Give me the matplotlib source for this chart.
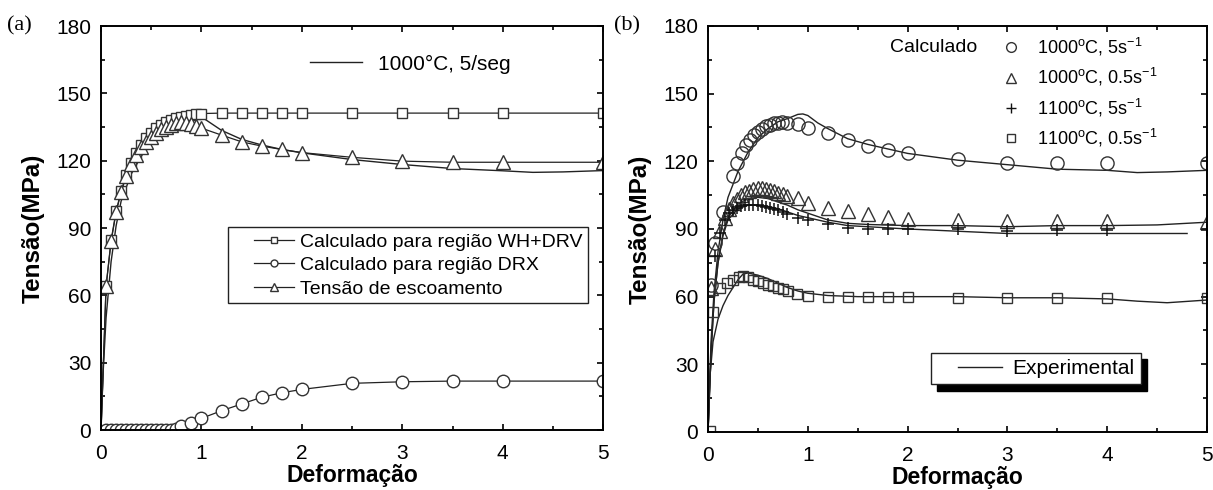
import matplotlib
matplotlib.use('Agg')
import matplotlib.pyplot as plt
from matplotlib.lines import Line2D
from matplotlib.legend_handler import HandlerLine2D
from matplotlib.ticker import MultipleLocator

plt.rcParams['font.family'] = ['Liberation Sans', 'DejaVu Sans']
plt.rcParams['mathtext.fontset'] = 'custom'
plt.rcParams['mathtext.rm'] = 'Liberation Sans'

# ---------------- (a) 1000°C, 5/seg ----------------
a_exp_x = [0, 0.02, 0.05, 0.1, 0.15, 0.2, 0.3, 0.4, 0.5, 0.6, 0.7, 0.8, 0.9, 0.95,
           1.0, 1.1, 1.2, 1.4, 1.6, 1.8, 2.0, 2.5, 3.0, 3.5, 4.0, 4.3, 4.6, 5.0]
a_exp_y = [0, 25, 50, 75, 91, 102, 114, 122, 128, 132.5, 136, 138.5, 140, 140.2,
           139.5, 136.5, 133.5, 129.5, 127, 125, 123.5, 120.5, 118.3, 116.5, 115.5, 114.8, 115, 115.6]

a_calc_x = [0, 0.05, 0.1, 0.15, 0.2, 0.25, 0.3, 0.35, 0.4, 0.45, 0.5, 0.55, 0.6, 0.65,
            0.7, 0.75, 0.8, 0.85, 0.9, 0.95, 1.0, 1.2, 1.4, 1.6, 1.8, 2.0, 2.5, 3.0, 3.5, 4.0, 5.0]
a_whdrv_y = [0, 64, 84.5, 97.5, 106.5, 113.5, 119, 123.5, 127, 130, 132.5, 134.5, 136, 137.3,
             138.3, 139, 139.6, 140, 140.4, 140.7, 141, 141.2, 141.2, 141.2, 141.2, 141.2,
             141.2, 141.2, 141.2, 141.2, 141.2]
a_yield_y = [0, 64, 84, 97, 106, 113, 118.5, 122.5, 126, 128.5, 130.5, 132.5, 134, 135,
             136, 136.8, 137.2, 137, 136.5, 135.5, 134.5, 131.4, 128.4, 126.5, 125, 123.6,
             121.5, 119.8, 119.3, 119.3, 119.3]

a_drx_x = [0, 0.05, 0.1, 0.15, 0.2, 0.25, 0.3, 0.35, 0.4, 0.45, 0.5, 0.55, 0.6, 0.65, 0.7,
           0.75, 0.8, 0.9, 1.0, 1.2, 1.4, 1.6, 1.8, 2.0, 2.5, 3.0, 3.5, 4.0, 5.0]
a_drx_y = [0, 0, 0, 0, 0, 0, 0, 0, 0, 0, 0, 0, 0, 0, 0.2,
           0.5, 1.8, 3.0, 5.2, 8.6, 11.6, 14.6, 16.6, 18.1, 20.8, 21.5, 21.8, 21.8, 21.8]

a_labels = ['Calculado para região WH+DRV', 'Calculado para região DRX',
            'Tensão de escoamento']

# ---------------- (b) experimental ----------------
b_e1_x = [0, 0.03, 0.06, 0.1, 0.15, 0.2, 0.3, 0.4, 0.5, 0.6, 0.7, 0.8, 0.9, 0.95, 1.0,
          1.1, 1.2, 1.4, 1.6, 1.8, 2.0, 2.5, 3.0, 3.5, 4.0, 4.3, 4.6, 5.0]
b_e1_y = [0, 40, 62, 80, 94, 104, 115.5, 124, 130.5, 134.5, 137.5, 139, 140.8, 141, 140.3,
          137, 134.5, 130, 127.5, 125.5, 123.5, 120.5, 118.5, 116.5, 116, 115, 115.3, 116]

b_e2_x = [0, 0.03, 0.06, 0.1, 0.15, 0.2, 0.3, 0.4, 0.5, 0.6, 0.7, 0.8, 0.9, 1.0, 1.2,
          1.4, 1.6, 2.0, 2.5, 3.0, 3.5, 4.0, 4.5, 5.0]
b_e2_y = [0, 35, 58, 75, 88, 95, 101, 103.5, 104, 103.5, 102, 100.5, 98.5, 97, 94,
          92.5, 92, 91.5, 91.5, 91, 91.5, 91.5, 91.8, 93]

b_e3_x = [0, 0.03, 0.06, 0.1, 0.15, 0.2, 0.3, 0.4, 0.5, 0.6, 0.7, 0.8, 0.9, 1.0, 1.2,
          1.4, 1.6, 1.8, 2.0, 2.5, 3.0, 3.5, 4.0, 4.5, 4.8]
b_e3_y = [0, 35, 58, 75, 87, 94, 99, 100.5, 100.5, 100, 99, 97.5, 96, 95, 93,
          91.5, 91, 90.5, 90, 89, 88, 88, 88, 88, 88]

b_e4_x = [0, 0.02, 0.05, 0.1, 0.15, 0.2, 0.25, 0.3, 0.35, 0.4, 0.5, 0.6, 0.7, 0.8, 0.9,
          1.0, 1.2, 1.5, 2.0, 2.5, 3.0, 3.5, 4.0, 4.3, 4.6, 5.0]
b_e4_y = [0, 25, 40, 50, 56, 60.5, 64, 67.5, 70, 70.5, 69.5, 68, 66, 64, 62.5,
          61.5, 60.5, 60, 60, 60, 59.5, 59.5, 59, 58, 57.3, 58.5]

# ---------------- (b) calculated ----------------
b_c1_x = [0.03, 0.07, 0.15, 0.25, 0.29, 0.34, 0.38, 0.42, 0.46, 0.5, 0.54, 0.58, 0.62,
          0.66, 0.7, 0.74, 0.79, 0.9, 1.0, 1.2, 1.4, 1.6, 1.8, 2.0, 2.5, 3.0, 3.5, 4.0, 5.0]
b_c1_y = [65, 84, 97.7, 113.5, 119.4, 123.8, 127.2, 129.5, 131.5, 133, 134.5, 135.5, 136.3,
          136.8, 137.2, 137.3, 137.1, 136.4, 134.9, 132.7, 129.4, 127, 125, 123.5, 121,
          119.4, 119.1, 119.1, 119.1]

b_c2_x = [0.03, 0.07, 0.12, 0.17, 0.21, 0.25, 0.29, 0.33, 0.37, 0.41, 0.45, 0.5, 0.54, 0.58,
          0.62, 0.66, 0.7, 0.75, 0.79, 0.9, 1.0, 1.2, 1.4, 1.6, 1.8, 2.0, 2.5, 3.0, 3.5, 4.0, 5.0]
b_c2_y = [64, 81, 89, 95, 99, 101.5, 103.5, 105, 106.2, 107, 107.6, 108, 108, 107.8,
          107.4, 106.8, 106, 105.3, 104.6, 103.9, 101.4, 99.1, 98.1, 96.5, 95.5, 94.5,
          93.8, 93.5, 93.5, 93.5, 93.2]

b_c3_x = [0.07, 0.12, 0.17, 0.21, 0.25, 0.29, 0.33, 0.37, 0.41, 0.45, 0.5, 0.54, 0.58,
          0.62, 0.66, 0.7, 0.75, 0.79, 0.9, 1.0, 1.2, 1.4, 1.6, 1.8, 2.0, 2.5, 3.0, 3.5, 4.0, 5.0]
b_c3_y = [78, 88, 94, 97, 98.5, 99.5, 100, 100.5, 100.6, 100.6, 100.5, 100.2, 99.8,
          99.3, 98.8, 98.2, 97.5, 96.8, 95, 94, 92, 90.5, 90, 90, 90, 89.8, 89.2, 89.5, 89.5, 89.5]

b_c4_x = [0.02, 0.05, 0.12, 0.19, 0.25, 0.31, 0.35, 0.4, 0.45, 0.5, 0.55, 0.6, 0.65, 0.7,
          0.75, 0.8, 0.89, 1.0, 1.2, 1.4, 1.6, 1.8, 2.0, 2.5, 3.0, 3.5, 4.0, 5.0]
b_c4_y = [0.5, 53, 64, 66, 67.5, 68.6, 69, 68.5, 67.5, 66.8, 66, 65.3, 64.6, 64,
          63.3, 62.5, 61, 60.3, 59.8, 59.7, 59.7, 59.7, 59.7, 59.5, 59.5, 59.5, 59.5, 59.5]

b_labels = [r'1000$^{\mathrm{o}}$C, 5s$^{\mathrm{-1}}$',
            r'1000$^{\mathrm{o}}$C, 0.5s$^{\mathrm{-1}}$',
            r'1100$^{\mathrm{o}}$C, 5s$^{\mathrm{-1}}$',
            r'1100$^{\mathrm{o}}$C, 0.5s$^{\mathrm{-1}}$']

fig = plt.figure(figsize=(12.13, 4.9), dpi=100)
ax1 = fig.add_axes([0.0833, 0.1224, 0.414, 0.8245])
ax2 = fig.add_axes([0.5837, 0.1184, 0.4114, 0.8286])

EC = '#333333'


def style_axes(ax):
    ax.set_xlim(0, 5)
    ax.set_ylim(0, 180)
    ax.xaxis.set_major_locator(MultipleLocator(1))
    ax.xaxis.set_minor_locator(MultipleLocator(0.5))
    ax.yaxis.set_major_locator(MultipleLocator(30))
    ax.yaxis.set_minor_locator(MultipleLocator(15))
    ax.tick_params(which='both', direction='in', top=True, right=True,
                   width=1.2, labelsize=15)
    ax.tick_params(which='major', length=4.5)
    ax.tick_params(which='minor', length=3)
    ax.tick_params(axis='x', pad=10)
    ax.tick_params(axis='y', pad=7)
    for s in ax.spines.values():
        s.set_linewidth(1.4)
    ax.set_xlabel('Deformação', fontsize=16.5, fontweight='bold', labelpad=1)
    ax.set_ylabel('Tensão(MPa)', fontsize=17.5, fontweight='bold', labelpad=8)


# ---- panel (a)
exp_a, = ax1.plot(a_exp_x, a_exp_y, color='#222222', lw=1.0)
ax1.plot(a_calc_x, a_whdrv_y, color='#222222', lw=0.9, marker='s', ms=7.5,
         mfc='white', mec=EC, mew=1.0, markevery=slice(1, None))
ax1.plot(a_drx_x, a_drx_y, color='#222222', lw=0.9, marker='o', ms=9,
         mfc='white', mec=EC, mew=1.0, markevery=slice(1, None))
ax1.plot(a_calc_x, a_yield_y, color='#222222', lw=0.9, marker='^', ms=10,
         mfc='white', mec=EC, mew=1.0, markevery=slice(1, None))
style_axes(ax1)

leg_a1 = ax1.legend([exp_a], ['1000°C, 5/seg'], loc='center left',
                    bbox_to_anchor=(0.416, 0.906), borderaxespad=0, borderpad=0,
                    frameon=False, fontsize=15, handlelength=2.5, handletextpad=0.75)
ax1.add_artist(leg_a1)
h_sq = Line2D([], [], color='#222222', lw=0.9, marker='s', ms=5, mfc='white', mec=EC)
h_ci = Line2D([], [], color='#222222', lw=0.9, marker='o', ms=5, mfc='white', mec=EC)
h_tr = Line2D([], [], color='#222222', lw=0.9, marker='^', ms=6, mfc='white', mec=EC)
pad_a = HandlerLine2D(xpad=1.05)
leg_a2 = ax1.legend([h_sq, h_ci, h_tr], a_labels,
                    loc='upper right', bbox_to_anchor=(0.970, 0.502), borderaxespad=0,
                    fontsize=14, handlelength=3.1, handletextpad=0.3, labelspacing=0.3,
                    borderpad=0.3, fancybox=False, edgecolor='#222222', framealpha=1,
                    handler_map={h_sq: pad_a, h_ci: pad_a, h_tr: pad_a})
leg_a2.get_frame().set_linewidth(1.0)

# ---- panel (b)
for xs, ys in [(b_e1_x, b_e1_y), (b_e2_x, b_e2_y), (b_e3_x, b_e3_y), (b_e4_x, b_e4_y)]:
    exp_b, = ax2.plot(xs, ys, color='#222222', lw=1.0)
ax2.plot(b_c1_x, b_c1_y, ls='none', marker='o', ms=9.5, mfc='none', mec=EC, mew=1.0)
ax2.plot(b_c2_x, b_c2_y, ls='none', marker='^', ms=10, mfc='none', mec=EC, mew=1.0)
ax2.plot(b_c3_x, b_c3_y, ls='none', marker='+', ms=9, mec='#111111', mew=1.1)
ax2.plot(b_c4_x, b_c4_y, ls='none', marker='s', ms=7.5, mfc='none', mec=EC, mew=1.0)
style_axes(ax2)

h1 = Line2D([], [], ls='none', marker='o', ms=7, mfc='none', mec=EC)
h2 = Line2D([], [], ls='none', marker='^', ms=7, mfc='none', mec=EC)
h3 = Line2D([], [], ls='none', marker='+', ms=7, mec='#111111')
h4 = Line2D([], [], ls='none', marker='s', ms=6, mfc='none', mec=EC)
leg_b1 = ax2.legend([h1, h2, h3, h4], b_labels, loc='upper left',
                    bbox_to_anchor=(0.59, 0.975), borderaxespad=0, borderpad=0,
                    frameon=False, fontsize=13, handlelength=1.0, handletextpad=0.9,
                    labelspacing=0.45)
ax2.add_artist(leg_b1)
ax2.text(0.365, 0.946, 'Calculado', transform=ax2.transAxes, fontsize=14,
         va='center', ha='left')

exp_h = Line2D([], [], color='#222222', lw=1.0)
leg_b2 = ax2.legend([exp_h], ['Experimental'], loc='upper left',
                    bbox_to_anchor=(0.447, 0.195), borderaxespad=0, fontsize=15,
                    handlelength=3.1, handletextpad=0.5, borderpad=0.3,
                    fancybox=False, edgecolor='#222222', framealpha=1,
                    handler_map={exp_h: HandlerLine2D(xpad=1.0)},
                    shadow={'ox': 4.5, 'oy': -4.5, 'facecolor': 'black',
                            'edgecolor': 'black', 'alpha': 1})
leg_b2.get_frame().set_linewidth(1.0)

fig.text(0.006, 0.947, '(a)', family='Liberation Serif', fontsize=16, va='center')
fig.text(0.506, 0.947, '(b)', family='Liberation Serif', fontsize=16, va='center')

fig.savefig('out.png', dpi=100)
